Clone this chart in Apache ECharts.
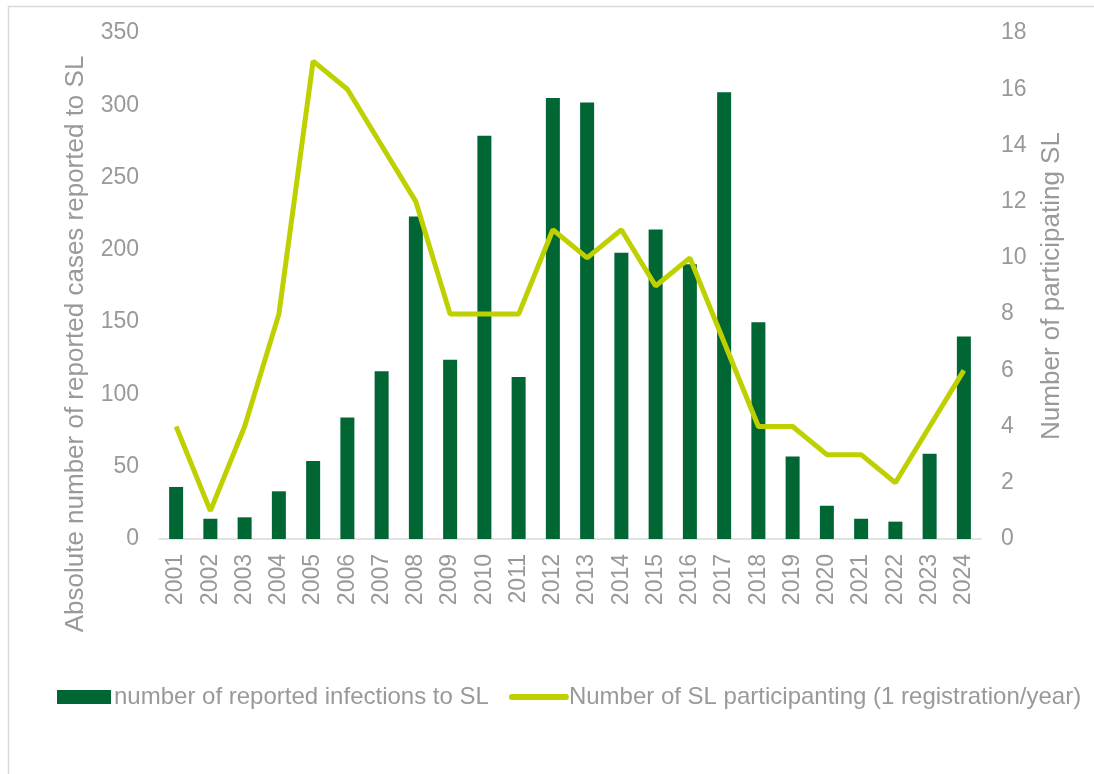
<!DOCTYPE html>
<html>
<head>
<meta charset="utf-8">
<script src="https://cdn.jsdelivr.net/npm/echarts@6/dist/echarts.min.js"></script>
<style>html,body{margin:0;padding:0;background:#fff}#chart{width:1094px;height:774px}</style>
</head>
<body>
<div id="chart"></div>
<script>
var years = ['2001','2002','2003','2004','2005','2006','2007','2008','2009','2010','2011','2012','2013','2014','2015','2016','2017','2018','2019','2020','2021','2022','2023','2024'];
var infections = [36,14,15,33,54,84,116,223,124,279,112,305,302,198,214,190,309,150,57,23,14,12,59,140];
var participating = [4,1,4,8,17,16,14,12,8,8,8,11,10,11,9,10,7,4,4,3,3,2,4,6];
var barName = 'number of reported infections to SL';
var lineName = 'Number of SL participanting (1 registration/year)';
var leftTitle = 'Absolute number of reported cases reported to SL';
var rightTitle = 'Number of participating SL';

var chart = echarts.init(document.getElementById('chart'));
var gray = '#999999';
var font = 'Liberation Sans, Arial, sans-serif';
chart.setOption({
  animation: false,
  textStyle: { fontFamily: font },
  graphic: [{
    type: 'rect', silent: true,
    shape: { x: 8.5, y: 6.5, width: 1200, height: 900 },
    style: { fill: 'none', stroke: '#d9d9d9', lineWidth: 1.5 }
  }],
  grid: { left: 159, right: 113, top: 33, bottom: 235, containLabel: false },
  legend: {
    left: 52, top: 680, padding: 5,
    itemWidth: 54, itemHeight: 14, itemGap: 20,
    textStyle: { color: gray, fontSize: 24, fontFamily: font, padding: [0, 0, 0, -2] },
    data: [
      { name: barName, icon: 'rect' },
      { name: lineName, itemStyle: { opacity: 0 }, lineStyle: { width: 6, cap: 'round' } }
    ]
  },
  xAxis: {
    type: 'category', data: years,
    axisLine: { lineStyle: { color: '#d9d9d9', width: 1.5 } },
    axisTick: { show: false },
    axisLabel: { rotate: 90, color: gray, fontSize: 23, margin: 15, interval: 0 }
  },
  yAxis: [{
    type: 'value', min: 0, max: 350, interval: 50,
    name: leftTitle, nameLocation: 'middle', nameGap: 70,
    nameTextStyle: { color: gray, fontSize: 26, padding: [0, 116, 0, 0] },
    axisLine: { show: false }, axisTick: { show: false }, splitLine: { show: false },
    axisLabel: { color: gray, fontSize: 23, margin: 20 }
  }, {
    type: 'value', min: 0, max: 18, interval: 2, position: 'right',
    name: rightTitle, nameLocation: 'middle', nameGap: 58,
    nameTextStyle: { color: gray, fontSize: 26 },
    axisLine: { show: false }, axisTick: { show: false }, splitLine: { show: false },
    axisLabel: { color: gray, fontSize: 23, margin: 20 }
  }],
  series: [{
    name: barName, type: 'bar', data: infections, barWidth: 14,
    itemStyle: { color: '#006633' }
  }, {
    name: lineName, type: 'line', yAxisIndex: 1, data: participating,
    symbol: 'none', lineStyle: { color: '#bfd000', width: 5 },
    itemStyle: { color: '#bfd000' }
  }]
});
</script>
</body>
</html>
